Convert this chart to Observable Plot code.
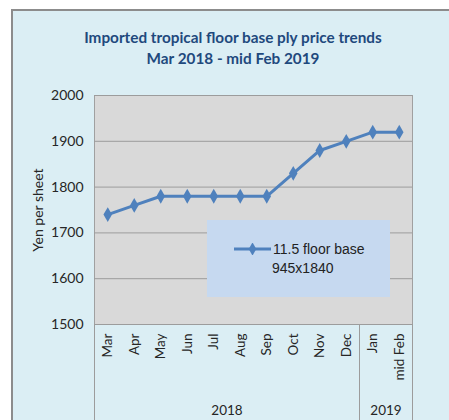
<!DOCTYPE html>
<html>
<head>
<meta charset="utf-8">
<script src="https://cdn.jsdelivr.net/npm/d3@7"></script>
<script src="https://cdn.jsdelivr.net/npm/@observablehq/plot@0.6"></script>
<style>
  html, body { margin: 0; padding: 0; background: #ffffff; width: 449px; height: 420px; overflow: hidden; }
  #chart { position: absolute; left: 11px; top: 9px; width: 440px; height: 413px;
           background: #dbeef4; border-left: 2px solid #8c8c8c; border-top: 2px solid #8c8c8c; }
  #title { position: absolute; left: 0; top: 0; width: 440px; height: 70px; text-align: center;
           font-family: Lato, "Open Sans", sans-serif; font-weight: bold; font-size: 15.3px; color: #1f497d;
           line-height: 21px; padding-top: 16px; box-sizing: border-box; }
  #plotwrap { position: absolute; left: 0; top: 70px; }
  #legend { position: absolute; left: 194px; top: 209px; width: 183px; height: 77px; background: #c6d9f0;
            font-family: "Liberation Sans", Arial, sans-serif; font-size: 14px; color: #222; }
  #legend svg { position: absolute; left: 26px; top: 23px; }
  #legend .l1 { position: absolute; left: 66px; top: 21px; }
  #legend .l2 { position: absolute; left: 65px; top: 40px; }
</style>
</head>
<body>
<div id="chart">
  <div id="title"></div>
  <div id="plotwrap"></div>
  <div id="legend"></div>
</div>
<script>
const titleLines = ["Imported tropical floor base ply price trends", "Mar 2018 - mid Feb 2019"];
const months = ["Mar","Apr","May","Jun","Jul","Aug","Sep","Oct","Nov","Dec","Jan","mid Feb"];
const years = ["2018","2018","2018","2018","2018","2018","2018","2018","2018","2018","2019","2019"];
const prices = [1740,1760,1780,1780,1780,1780,1780,1830,1880,1900,1920,1920];
const yTicks = [1500,1600,1700,1800,1900,2000];
const yLabel = "Yen per sheet";
const legendLines = ["11.5 floor base", "945x1840"];

const lineColor = "#4f81bd";
const data = months.map((m, i) => ({i, month: m, year: years[i], price: prices[i]}));
const idx = data.map(d => d.i);

// group boundaries and centers derived from the year array
const groups = d3.groups(data, d => d.year);
const boundaries = [-0.5];
const centers = [];
const centerLabels = [];
for (const [yr, rows] of groups) {
  const last = rows[rows.length - 1].i;
  boundaries.push(last + 0.5);
  centers.push(d3.mean(rows, r => r.i));
  centerLabels.push(yr);
}

document.getElementById("title").innerHTML = titleLines.join("<br>");

const plot = Plot.plot({
  width: 438,
  height: 343,
  marginLeft: 81,
  marginRight: 39,
  marginTop: 14,
  marginBottom: 100,
  style: {background: "transparent", fontFamily: "Lato, 'Open Sans', sans-serif", color: "#262626", overflow: "visible"},
  x: {domain: [-0.5, months.length - 0.5], axis: null},
  y: {domain: [1500, 2000], axis: null},
  marks: [
    Plot.frame({fill: "#d9d9d9", stroke: "#a0a0a0"}),
    Plot.gridY(yTicks, {stroke: "#9c9c9c", strokeOpacity: 1}),
    Plot.axisY(yTicks, {tickSize: 0, tickPadding: 11, fontSize: 14, tickFormat: d => String(d), label: yLabel, labelAnchor: "center", labelOffset: 61, labelArrow: "none", fontWeight: "normal"}),
    Plot.axisX(idx, {tickSize: 0, tickPadding: 9, tickRotate: -90, fontSize: 13.5, tickFormat: i => months[i], label: null}),
    Plot.axisX(boundaries, {tickSize: 97, stroke: "#9c9c9c", tickFormat: () => "", label: null}),
    Plot.axisX(centers, {tickSize: 0, tickPadding: 81, fontSize: 13.5, tickFormat: (d, k) => centerLabels[k], label: null}),
    Plot.line(data, {x: "i", y: "price", stroke: lineColor, strokeWidth: 3}),
    Plot.dot(data, {x: "i", y: "price", symbol: "diamond", fill: lineColor, r: 4.5})
  ]
});
document.getElementById("plotwrap").appendChild(plot);

// legend
const leg = document.getElementById("legend");
const s = d3.create("svg").attr("width", 40).attr("height", 12);
s.append("line").attr("x1", 1).attr("x2", 38).attr("y1", 6).attr("y2", 6).attr("stroke", lineColor).attr("stroke-width", 3);
s.append("path").attr("d", d3.symbol(d3.symbolDiamond, 50)()).attr("transform", "translate(19.5,6)").attr("fill", lineColor);
leg.appendChild(s.node());
const l1 = document.createElement("div"); l1.className = "l1"; l1.textContent = legendLines[0]; leg.appendChild(l1);
const l2 = document.createElement("div"); l2.className = "l2"; l2.textContent = legendLines[1]; leg.appendChild(l2);
</script>
</body>
</html>
